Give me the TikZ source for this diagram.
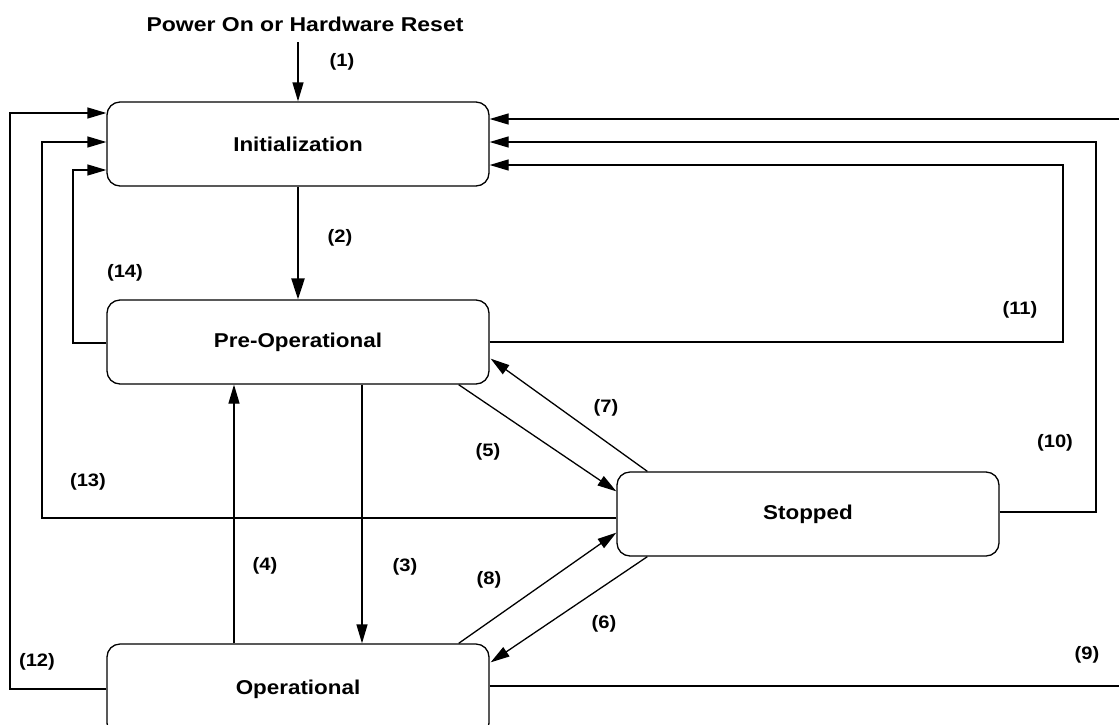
\documentclass[tikz,border=0pt]{standalone}
\usepackage{fontspec}
\setmainfont{Liberation Sans}
\usetikzlibrary{arrows.meta,calc}
\newcommand\wideT[1]{\scalebox{1.12}[1]{#1}}
\begin{document}
\begin{tikzpicture}[x=1pt,y=-1pt,
  statebox/.style={draw,line width=1.3pt,rounded corners=13pt,minimum width=382pt,minimum height=84pt,inner sep=0pt,font=\fontsize{20}{24}\selectfont\bfseries},
  lbl/.style={font=\fontsize{18}{22}\selectfont\bfseries,inner sep=0pt},
  arr/.style={line width=1.3pt,-{Triangle[length=19pt,width=11pt]}},
  ln/.style={line width=1.3pt}]
\useasboundingbox (0,0) rectangle (1119,724);
\node[font=\fontsize{20}{24}\selectfont\bfseries,inner sep=0pt] (power) at (305,24) {\scalebox{1.15}[1]{Power On or Hardware Reset}};
\node[statebox] (init) at (298,144) {\wideT{Initialization}};
\node[statebox] (preop) at (298,342) {\wideT{Pre-Operational}};
\node[statebox] (stop) at (808,514) {\wideT{Stopped}};
\node[statebox,minimum height=92pt] (opn) at (298,690) {\raisebox{6pt}{\wideT{Operational}}};
\coordinate (p1) at (298,42);
\coordinate (c9) at (1135,400);
\coordinate (c10) at (1096,300);
\coordinate (c11) at (1063,250);
\coordinate (c12) at (10,400);
\coordinate (c13) at (42,300);
\coordinate (c14) at (73,250);
% (1)
\draw[arr] (p1) -- (init.north);
% (2)
\draw[line width=2.5pt,-{Triangle[length=21pt,width=13pt]}] (init.south) -- (preop.north);
% (3)
\draw[arr] ($(preop.south)+(64,0)$) -- ($(opn.north)+(64,0)$);
% (4)
\draw[arr] ($(opn.north)+(-64,0)$) -- ($(preop.south)+(-64,0)$);
% (5)
\draw[arr] ($(preop.south east)+(-31,0)$) -- ($(stop.north west)+(0,20)$);
% (7)
\draw[arr] ($(stop.north west)+(31,0)$) -- ($(preop.south east)+(1,-26)$);
% (8)
\draw[arr] ($(opn.north east)+(-31,0)$) -- ($(stop.south west)+(0,-24)$);
% (6)
\draw[arr] ($(stop.south west)+(31,0)$) -- ($(opn.north east)+(1,19)$);
% (9)
\draw[arr] ($(opn.east)+(0,-4)$) -| (c9) |- ($(init.east)+(0,-25)$);
% (10)
\draw[arr] ($(stop.east)+(0,-2)$) -| (c10) |- ($(init.east)+(0,-2)$);
% (11)
\draw[arr] (preop.east) -| (c11) |- ($(init.east)+(0,21)$);
% (12)
\draw[arr] ($(opn.west)+(0,-1)$) -| (c12) |- ($(init.west)+(0,-31)$);
% (13)
\draw[arr] ($(stop.west)+(0,4)$) -| (c13) |- ($(init.west)+(0,-2)$);
% (14)
\draw[arr] ($(preop.west)+(0,1)$) -| (c14) |- ($(init.west)+(0,26)$);
% labels
\node[lbl] (l1) at (342,62) {\wideT{(1)}};
\node[lbl] (l2) at (340,238) {\wideT{(2)}};
\node[lbl] (l3) at (405,567) {\wideT{(3)}};
\node[lbl] (l4) at (265,566) {\wideT{(4)}};
\node[lbl] (l5) at (488,452) {\wideT{(5)}};
\node[lbl] (l6) at (604,624) {\wideT{(6)}};
\node[lbl] (l7) at (606,408) {\wideT{(7)}};
\node[lbl] (l8) at (489,580) {\wideT{(8)}};
\node[lbl] (l9) at (1087,655) {\wideT{(9)}};
\node[lbl] (l10) at (1055,443) {\wideT{(10)}};
\node[lbl] (l11) at (1020,310) {\wideT{(11)}};
\node[lbl] (l12) at (37,662) {\wideT{(12)}};
\node[lbl] (l13) at (88,482) {\wideT{(13)}};
\node[lbl] (l14) at (125,273) {\wideT{(14)}};
\end{tikzpicture}
\end{document}
